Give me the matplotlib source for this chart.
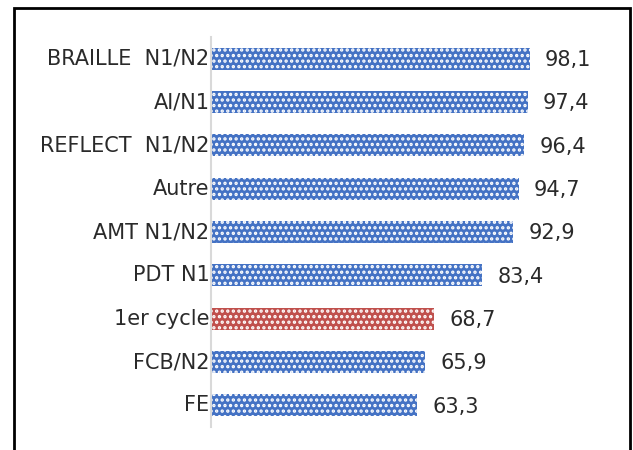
import matplotlib
matplotlib.use('Agg')
import matplotlib.pyplot as plt
import matplotlib.patches as mpatches

# data, top to bottom
labels = ['BRAILLE  N1/N2', 'AI/N1', 'REFLECT  N1/N2', 'Autre', 'AMT N1/N2',
          'PDT N1', '1er cycle', 'FCB/N2', 'FE']
values = [98.1, 97.4, 96.4, 94.7, 92.9, 83.4, 68.7, 65.9, 63.3]
value_labels = ['98,1', '97,4', '96,4', '94,7', '92,9', '83,4', '68,7', '65,9', '63,3']
highlight = '1er cycle'

plt.rcParams['font.family'] = ['DejaVu Sans']
plt.rcParams['hatch.linewidth'] = 1.6

fig = plt.figure(figsize=(6.33, 4.5), dpi=100)
ax = fig.add_axes([211/633, 1 - 427/450, 390/633, 390/450])

colors = ['#C0504D' if l == highlight else '#4472C4' for l in labels]
pos = list(range(len(labels)))[::-1]
bars = ax.barh(pos, values, height=0.51, color=colors, edgecolor='white',
               linewidth=0, hatch='...')

for y, v, t in zip(pos, values, value_labels):
    ax.annotate(t, (v, y), xytext=(11, -1), textcoords='offset points',
                va='center', ha='left', fontsize=15, color='#2a2a2a')

ax.set_yticks(pos)
ax.set_yticklabels(labels, fontsize=15, color='#2a2a2a')
for lab in ax.get_yticklabels():
    lab.set_verticalalignment('center')
ax.tick_params(axis='y', length=0, pad=1)
ax.set_xlim(0, 120)
ax.set_ylim(-0.5, len(labels) - 0.5)
ax.set_xticks([])
for s in ['top', 'right', 'bottom']:
    ax.spines[s].set_visible(False)
ax.spines['left'].set_color('#d9d9d9')
ax.spines['left'].set_linewidth(1.5)

# outer frame
frame = mpatches.Rectangle((14/633, -0.05), (630 - 14)/633, 1.05 - 8/450,
                           transform=fig.transFigure, fill=False,
                           edgecolor='black', linewidth=2, clip_on=False)
fig.patches.append(frame)

plt.savefig('out.png', dpi=100)
